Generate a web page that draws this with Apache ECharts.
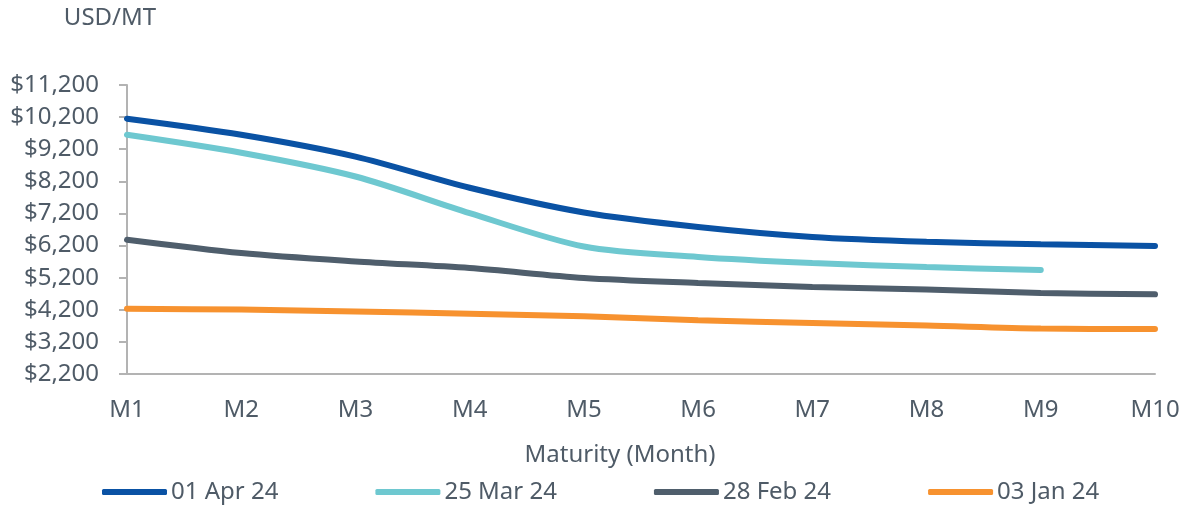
<!DOCTYPE html>
<html>
  <head>
    <meta charset="utf-8" />
    <script src="https://cdn.jsdelivr.net/npm/echarts@6/dist/echarts.min.js"></script>
    <style>
      html, body { margin: 0; padding: 0; background: #fff; }
    </style>
  </head>
  <body>
    <div id="chart" style="width: 1200px; height: 528px;"></div>
  </body>
  <script>
    var months = ['M1', 'M2', 'M3', 'M4', 'M5', 'M6', 'M7', 'M8', 'M9', 'M10']
    var apr01 = [10150, 9650, 8970, 8000, 7230, 6780, 6470, 6320, 6240, 6190]
    var mar25 = [9650, 9090, 8350, 7210, 6170, 5845, 5655, 5530, 5440, null]
    var feb28 = [6380, 5965, 5705, 5500, 5190, 5035, 4910, 4830, 4725, 4680]
    var jan03 = [4235, 4205, 4150, 4080, 3995, 3875, 3790, 3710, 3615, 3600]

    var names = ['01 Apr 24', '25 Mar 24', '28 Feb 24', '03 Jan 24']
    var colors = ['#0a52a4', '#6ec8d0', '#4f5e6c', '#f7922f']
    var allData = [apr01, mar25, feb28, jan03]

    var textColor = '#4f5b67'
    var font = 'Noto Sans'
    var fs = 24

    var seriesData = []
    for (var i = 0; i < allData.length; i++) {
      seriesData.push({
        name: names[i],
        type: 'line',
        data: allData[i],
        smooth: 0.3,
        symbol: 'none',
        connectNulls: false,
        lineStyle: { width: 6, color: colors[i], cap: 'round' },
        itemStyle: { color: colors[i] }
      })
    }

    var chart = echarts.init(document.getElementById('chart'))
    var option = {
      animation: false,
      textStyle: { fontFamily: font, color: textColor },
      grid: { left: 127, right: 45, top: 85, bottom: 154 },
      legend: {
        top: 480,
        left: 102,
        padding: 0,
        itemGap: 97,
        itemWidth: 65,
        itemHeight: 6,
        icon: 'roundRect',
        textStyle: { fontFamily: font, fontSize: fs, color: textColor, padding: [0, 0, 0, -1] },
        data: names
      },
      xAxis: {
        type: 'category',
        data: months,
        boundaryGap: false,
        name: 'Maturity (Month)',
        nameLocation: 'middle',
        nameGap: 69,
        nameTextStyle: { fontFamily: font, fontSize: fs, color: textColor, padding: [0, 42, 0, 0] },
        axisLine: { lineStyle: { color: '#b3b3b3', width: 2 } },
        axisTick: { show: false },
        axisLabel: { margin: 24, fontSize: fs, color: textColor, fontFamily: font }
      },
      yAxis: {
        type: 'value',
        min: 2200,
        max: 11200,
        interval: 1000,
        name: 'USD/MT',
        nameLocation: 'end',
        nameGap: 55,
        nameTextStyle: { fontFamily: font, fontSize: fs, color: textColor, align: 'center', padding: [0, 0, 0, -34] },
        splitLine: { show: false },
        axisLine: { show: true, lineStyle: { color: '#b3b3b3', width: 2 } },
        axisTick: { show: true, length: 8, lineStyle: { color: '#b3b3b3', width: 2 } },
        axisLabel: {
          margin: 28,
          fontSize: fs,
          color: textColor,
          fontFamily: font,
          formatter: function (v) {
            return '$' + v.toLocaleString('en-US')
          }
        }
      },
      series: seriesData
    }
    option && chart.setOption(option)
  </script>
</html>
